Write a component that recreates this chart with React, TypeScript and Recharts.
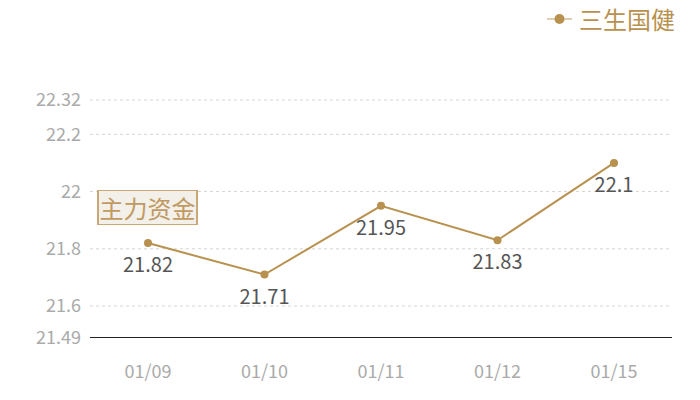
import React from "react";
import {
  CartesianGrid,
  LabelList,
  Line,
  LineChart,
  XAxis,
  YAxis
} from "recharts";

const dates = ["01/09", "01/10", "01/11", "01/12", "01/15"];
const prices = [21.82, 21.71, 21.95, 21.83, 22.1];
const yTicks = [21.49, 21.6, 21.8, 22, 22.2, 22.32];
const gridValues = [21.6, 21.8, 22, 22.2, 22.32];
const seriesName = "三生国健";
const tagText = "主力资金";

const GOLD = "#b8914f";
const FONT = '"Noto Sans CJK SC", "Noto Sans", sans-serif';

const chartData = dates.map((d, i) => ({ date: d, price: prices[i] }));

export default function App() {
  return (
    <div style={{ position: "absolute", left: 0, top: 0, width: 700, height: 400, fontFamily: FONT }}>
      <LineChart
        width={700}
        height={400}
        data={chartData}
        margin={{ top: 100, right: 28, bottom: 0, left: 0 }}
      >
        <CartesianGrid
          vertical={false}
          horizontalValues={gridValues}
          strokeDasharray="3 3"
          stroke="#d6d6d6"
        />
        <XAxis
          dataKey="date"
          height={62.5}
          padding={{ left: 58, right: 58 }}
          axisLine={{ stroke: "#222", strokeWidth: 1 }}
          tickLine={false}
          tickMargin={22}
          tick={{ fill: "#aaa", fontSize: 18, fontFamily: FONT }}
        />
        <YAxis
          type="number"
          domain={[21.49, 22.32]}
          ticks={yTicks}
          interval={0}
          width={90}
          axisLine={false}
          tickLine={false}
          tickMargin={3}
          tick={{ fill: "#aaa", fontSize: 18, fontFamily: FONT }}
        />
        <Line
          type="linear"
          dataKey="price"
          name={seriesName}
          stroke={GOLD}
          strokeWidth={2}
          dot={{ r: 4, fill: GOLD, stroke: GOLD, strokeWidth: 0 }}
          activeDot={false}
          isAnimationActive={false}
        >
          <LabelList
            dataKey="price"
            position="bottom"
            offset={15}
            fill="#555"
            fontSize={20}
            fontFamily={FONT}
          />
        </Line>
      </LineChart>
      {/* legend */}
      <div
        style={{
          position: "absolute",
          right: 25,
          top: 4,
          display: "flex",
          alignItems: "center",
          fontSize: 24,
          lineHeight: "30px",
          color: GOLD,
          fontFamily: FONT
        }}
      >
        <svg width={25} height={14} style={{ marginRight: 7 }}>
          <line x1={0} y1={7} x2={25} y2={7} stroke={GOLD} strokeWidth={1.5} strokeOpacity={0.6} />
          <circle cx={12.5} cy={7} r={5} fill={GOLD} />
        </svg>
        <span>{seriesName}</span>
      </div>
      <div
        style={{
          position: "absolute",
          left: 97,
          top: 190,
          width: 97,
          height: 33,
          lineHeight: "33px",
          textAlign: "center",
          background: "#f3efe9",
          borderStyle: "solid",
          borderColor: "#c9a877",
          borderWidth: "1px 2px",
          color: "#bf9a62",
          fontSize: 24,
          fontFamily: FONT,
          overflow: "hidden",
          whiteSpace: "nowrap"
        }}
      >
        {tagText}
      </div>
    </div>
  );
}
